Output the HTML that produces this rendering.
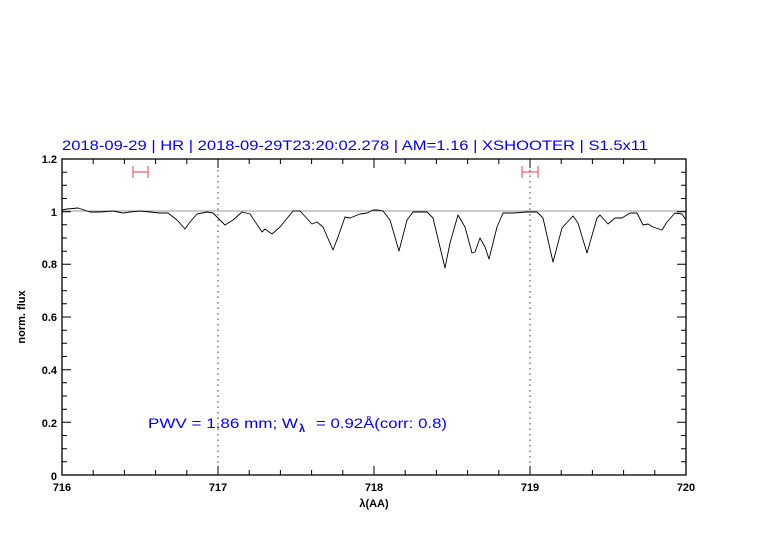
<!DOCTYPE html>
<html><head><meta charset="utf-8"><style>body{margin:0;background:#fff}svg{display:block}</style></head><body>
<svg width="782" height="542" xmlns="http://www.w3.org/2000/svg" font-family="Liberation Sans, sans-serif">
<rect width="782" height="542" fill="#fff"/>
<text x="62" y="150" fill="#0000ff" font-size="14" textLength="586" lengthAdjust="spacingAndGlyphs">2018-09-29 | HR | 2018-09-29T23:20:02.278 | AM=1.16 | XSHOOTER | S1.5x11</text>
<line x1="62" y1="211" x2="686" y2="211" stroke="#999" stroke-width="1"/>
<line x1="218" y1="159" x2="218" y2="475" stroke="#000" stroke-width="0.8" stroke-dasharray="1.5,4"/>
<line x1="530" y1="159" x2="530" y2="475" stroke="#000" stroke-width="0.8" stroke-dasharray="1.5,4"/>
<g stroke="#f06060" stroke-width="1.2">
<line x1="133" y1="172" x2="148" y2="172"/><line x1="133" y1="166" x2="133" y2="178"/><line x1="148" y1="166" x2="148" y2="178"/>
<line x1="522" y1="172" x2="538" y2="172"/><line x1="522" y1="166" x2="522" y2="178"/><line x1="538" y1="166" x2="538" y2="178"/>
</g>
<polyline fill="none" stroke="#000" stroke-width="0.9" stroke-linejoin="round" points="62,210 67,209 78,208 90,212 100,212 113,211 123,213 130,212 140,211 150,212 160,213 168,213 177,220 185,229 190,222 197,214 207,212 213,213 225,225 233,220 242,212 250,214 262,232 265,229 272,234 280,227 293,211 300,211 312,224 317,222 323,227 333,250 338,237 345,217 350,218 360,214 367,213 373,210 377,210 383,211 390,220 399,251 407,220 413,212 427,212 433,218 445,268 450,243 458,215 465,227 472,253 475,252 480,238 485,247 489,259 497,227 503,213 513,213 527,212 537,212 543,218 553,262 562,228 573,216 578,223 587,253 597,218 600,215 608,224 615,218 622,218 630,213 637,213 643,225 648,224 653,227 662,230 667,222 675,213 682,214 686,220"/>
<rect x="62" y="159" width="624" height="316" fill="none" stroke="#000" stroke-width="1.3"/>
<g stroke="#000" stroke-width="1">
<path d="M93.2,475v-5M124.4,475v-5M155.6,475v-5M186.8,475v-5M249.2,475v-5M280.4,475v-5M311.6,475v-5M342.8,475v-5M405.2,475v-5M436.4,475v-5M467.6,475v-5M498.8,475v-5M561.2,475v-5M592.4,475v-5M623.6,475v-5M654.8,475v-5M218,475v-9M374,475v-9M530,475v-9
M93.2,159v5M124.4,159v5M155.6,159v5M186.8,159v5M249.2,159v5M280.4,159v5M311.6,159v5M342.8,159v5M405.2,159v5M436.4,159v5M467.6,159v5M498.8,159v5M561.2,159v5M592.4,159v5M623.6,159v5M654.8,159v5M218,159v9M374,159v9M530,159v9"/>
<path d="M62,461.8h5M62,448.7h5M62,435.5h5M62,409.2h5M62,396h5M62,382.8h5M62,356.5h5M62,343.3h5M62,330.2h5M62,303.8h5M62,290.7h5M62,277.5h5M62,251.2h5M62,238h5M62,224.8h5M62,198.5h5M62,185.3h5M62,172.2h5M62,422.3h9M62,369.7h9M62,317h9M62,264.3h9M62,211.7h9
M686,461.8h-5M686,448.7h-5M686,435.5h-5M686,409.2h-5M686,396h-5M686,382.8h-5M686,356.5h-5M686,343.3h-5M686,330.2h-5M686,303.8h-5M686,290.7h-5M686,277.5h-5M686,251.2h-5M686,238h-5M686,224.8h-5M686,198.5h-5M686,185.3h-5M686,172.2h-5M686,422.3h-9M686,369.7h-9M686,317h-9M686,264.3h-9M686,211.7h-9"/>
</g>
<g font-size="11" font-weight="bold" fill="#000" text-anchor="end">
<text x="57" y="480">0</text><text x="57" y="427">0.2</text><text x="57" y="374">0.4</text><text x="57" y="321">0.6</text><text x="57" y="268">0.8</text><text x="57" y="216">1</text><text x="57" y="163">1.2</text>
</g>
<g font-size="11" font-weight="bold" fill="#000" text-anchor="middle">
<text x="62" y="491">716</text><text x="218" y="491">717</text><text x="374" y="491">718</text><text x="530" y="491">719</text><text x="686" y="491">720</text>
<text x="374" y="507">λ(AA)</text>
</g>
<text transform="translate(25,317) rotate(-90)" font-size="11" font-weight="bold" text-anchor="middle">norm. flux</text>
<text x="148" y="428" fill="#0000ff" font-size="14" textLength="150" lengthAdjust="spacingAndGlyphs">PWV = 1.86 mm; W</text>
<text x="299" y="432" fill="#0000ff" font-size="11" font-weight="bold">λ</text>
<text x="316" y="428" fill="#0000ff" font-size="14" textLength="131" lengthAdjust="spacingAndGlyphs">= 0.92Å(corr: 0.8)</text>
</svg>
</body></html>
